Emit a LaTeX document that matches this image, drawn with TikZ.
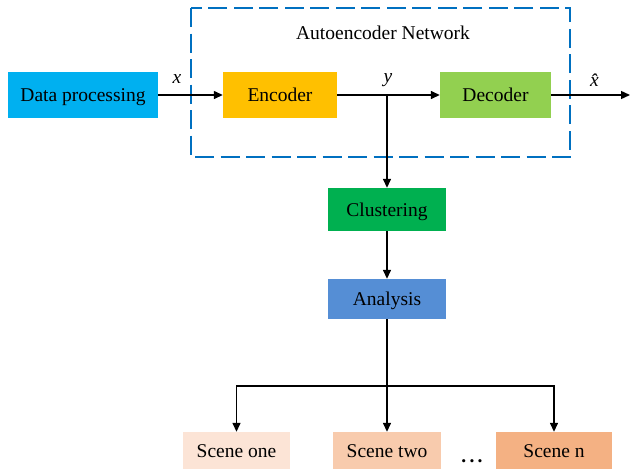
\documentclass[tikz,border=0pt]{standalone}
\usepackage{fontspec}
\setmainfont{Liberation Serif}
\usetikzlibrary{arrows.meta}
\definecolor{cdp}{HTML}{00B0F0}
\definecolor{cenc}{HTML}{FFC000}
\definecolor{cdec}{HTML}{92D050}
\definecolor{cclu}{HTML}{00B050}
\definecolor{cana}{HTML}{558ED5}
\definecolor{cs1}{HTML}{FCE4D6}
\definecolor{cs2}{HTML}{F8CBAD}
\definecolor{cs3}{HTML}{F4B183}
\definecolor{cdash}{HTML}{0070C0}
\begin{document}
\begin{tikzpicture}[x=1pt,y=-1pt,
  box/.style={rectangle, inner sep=0pt, font=\fontsize{19.5}{22}\selectfont, text=black, text height=15pt, text depth=2pt},
  conn/.style={line width=1.4pt, draw=black, -{Triangle[length=9pt,width=8pt]}},
  plain/.style={line width=1.4pt, draw=black},
  lbl/.style={font=\fontsize{19.5}{22}\selectfont, inner sep=0pt}]
\useasboundingbox (0,0) rectangle (630,472);
\draw[cdash, line width=2.6pt, dash pattern=on 19pt off 6.5pt] (191,8) rectangle (570,157);
\node[lbl] (title) at (383,33) {Autoencoder Network};
\node[box, fill=cdp, minimum width=150pt, minimum height=46pt] (dp) at (83,95) {Data processing};
\node[box, fill=cenc, minimum width=114pt, minimum height=46pt] (enc) at (280,95) {Encoder};
\node[box, fill=cdec, minimum width=111pt, minimum height=46pt] (dec) at (495.5,95) {Decoder};
\node[box, fill=cclu, minimum width=118pt, minimum height=43pt] (clu) at (387,209.5) {Clustering};
\node[box, fill=cana, minimum width=118pt, minimum height=40pt] (ana) at (387,299) {Analysis};
\node[box, fill=cs1, minimum width=107pt, minimum height=37pt] (s1) at (236.5,450.5) {Scene one};
\node[box, fill=cs2, minimum width=108pt, minimum height=37pt] (s2) at (387,450.5) {Scene two};
\node[box, fill=cs3, minimum width=116pt, minimum height=37pt] (sn) at (554,450.5) {Scene n};
\node[lbl] (dots) at (472,461) {\textbf{.\,.\,.}};
\coordinate (J) at (387,95);
\coordinate (out) at (630,95);
\coordinate (B) at (387,386);
\coordinate (BL) at (236.5,386);
\coordinate (BR) at (554,386);
\draw[conn] (dp.east) -- (enc.west);
\node[lbl] (xl) at (177,79) {\textit{x}};
\draw[plain] (enc.east) -- (J);
\draw[conn] (J) -- (dec.west);
\node[lbl] (yl) at (388,80) {\textit{y}};
\draw[conn] (dec.east) -- (out);
\node[lbl] (xh) at (598,80) {\textit{\^{x}}};
\draw[conn] (J) -- (clu.north);
\draw[conn] (clu.south) -- (ana.north);
\draw[plain] (ana.south) -- (B);
\draw[conn] (B) -- (BL) -- (s1.north);
\draw[conn] (B) -- (s2.north);
\draw[conn] (B) -- (BR) -- (sn.north);
\end{tikzpicture}
\end{document}
